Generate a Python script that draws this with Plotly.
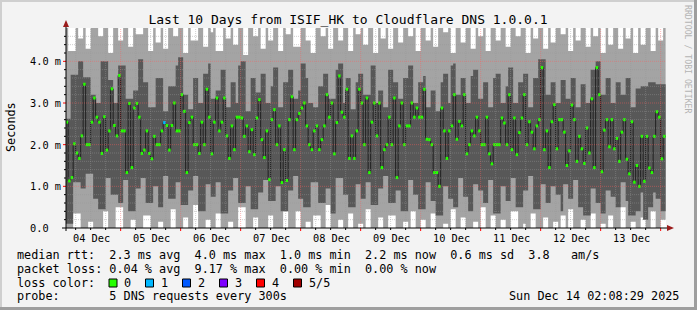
import plotly.graph_objects as go
from datetime import datetime, timedelta

# ---------------- data ----------------
title = "Last 10 Days from ISIF_HK to Cloudflare DNS 1.0.0.1"
range_start = datetime(2025, 12, 4, 2, 8, 29)
range_end = datetime(2025, 12, 14, 2, 8, 29)
first_hour = datetime(2025, 12, 4, 1, 0, 0)   # first hourly column start

day_labels = ["04 Dec", "05 Dec", "06 Dec", "07 Dec", "08 Dec",
              "09 Dec", "10 Dec", "11 Dec", "12 Dec", "13 Dec"]
y_tick_vals = [0.0, 1.0, 2.0, 3.0, 4.0]
y_tick_text = ["0.0", "1.0 m", "2.0 m", "3.0 m", "4.0 m"]

# median rtt per hour (ms)
median = [
    2.54, 2.54, 1.13, 1.21, 2.02, 1.80, 1.67, 2.21, 3.45, 2.0, 2.0, 2.54, 3.12, 2.66, 2.54, 1.79, 2.67, 1.87, 2.33, 3.34,
    2.46, 2.21, 3.66, 2.33, 2.33, 1.33, 2.99, 1.45, 2.88, 2.99, 2.66, 1.79, 1.87, 2.33, 1.79, 1.66, 2.2, 2.0, 2.0, 2.33,
    2.53, 2.46, 1.87, 2.46, 3.0, 2.33, 2.33, 3.2, 2.8, 1.33, 2.53, 2.66, 2.0, 2.0, 1.79, 2.54, 2.0, 3.33, 2.66, 1.78,
    2.54, 3.12, 2.33, 2.54, 3.12, 2.21, 1.67, 2.45, 1.88, 2.66, 2.66, 2.64, 2.2, 2.45, 1.83, 2.36, 1.76, 2.64, 3.08, 2.12,
    1.69, 2.33, 1.16, 2.6, 2.84, 2.0, 2.45, 1.09, 1.88, 1.14, 2.6, 3.15, 1.88, 2.6, 2.75, 2.88, 3.0, 2.45, 2.0, 1.88,
    2.33, 2.45, 1.88, 2.12, 2.45, 3.2, 2.66, 3.0, 1.78, 2.53, 3.65, 2.78, 2.66, 3.33, 1.67, 2.21, 1.67, 2.33, 3.33, 3.0,
    2.0, 3.12, 1.33, 2.54, 3.0, 2.21, 3.0, 1.45, 1.88, 2.0, 2.66, 2.0, 3.12, 1.21, 2.45, 3.0, 2.0, 2.45, 2.45, 3.0,
    2.66, 2.88, 2.66, 2.66, 3.33, 2.13, 2.12, 2.0, 1.33, 1.33, 1.0, 2.88, 2.33, 1.67, 2.33, 2.45, 3.2, 2.13, 2.56, 2.45,
    3.2, 1.78, 2.0, 2.33, 2.21, 2.66, 2.33, 2.0, 2.0, 2.66, 1.78, 1.54, 2.0, 2.0, 2.0, 2.64, 2.52, 2.0, 3.2, 1.88,
    2.64, 1.76, 2.29, 2.64, 3.2, 2.0, 2.55, 2.3, 1.9, 2.45, 2.6, 3.85, 1.88, 2.33, 1.45, 2.55, 2.96, 1.9, 2.6, 2.6,
    2.3, 1.5, 1.85, 2.95, 2.6, 1.6, 2.2, 1.9, 1.55, 2.4, 1.8, 3.1, 1.45, 3.85, 3.2, 1.35, 2.35, 2.6, 1.95, 2.6,
    1.9, 2.15, 1.6, 2.3, 2.6, 1.65, 1.3, 2.55, 1.1, 1.5, 1.0, 2.2, 1.12, 2.2, 1.44, 1.33, 2.2, 2.79, 2.66, 1.66, 2.2,
]

# 2nd-highest ping (top of dark smoke)
ping4 = [
    2.62, 2.62, 2.62, 3.68, 3.68, 3.68, 4.0, 4.0, 3.62, 3.62, 3.62, 3.2, 3.2, 3.0, 3.0, 4.0, 4.0, 4.0, 3.55, 3.55,
    3.0, 3.0, 3.9, 3.9, 3.9, 3.1, 3.1, 3.1, 3.3, 3.3, 4.05, 4.05, 3.5, 3.5, 2.9, 2.9, 2.9, 3.6, 3.6, 3.6,
    2.8, 2.8, 3.4, 3.4, 3.4, 3.9, 4.1, 4.1, 3.2, 3.2, 2.85, 2.85, 3.6, 3.6, 3.0, 3.0, 3.7, 3.7, 3.95, 3.1,
    3.1, 3.3, 3.3, 3.8, 3.8, 2.9, 2.9, 3.5, 3.5, 3.0, 3.9, 4.0, 4.0, 2.8, 2.8, 3.6, 3.6, 3.25, 3.25, 3.7,
    3.7, 3.0, 3.0, 3.4, 3.85, 3.85, 2.9, 2.9, 3.5, 3.5, 3.8, 3.8, 3.1, 3.1, 3.3, 3.95, 3.95, 3.6, 3.0, 3.0,
    2.9, 2.9, 3.4, 3.4, 3.7, 3.7, 3.1, 3.1, 3.1, 3.8, 3.95, 3.95, 3.0, 3.6, 3.6, 2.85, 2.85, 3.5, 3.7, 3.7,
    3.2, 3.2, 3.2, 3.9, 3.9, 3.0, 3.3, 3.3, 2.9, 2.9, 3.8, 3.8, 3.5, 3.5, 3.1, 3.1, 3.6, 3.6, 3.9, 3.9,
    3.0, 3.0, 3.5, 3.5, 3.65, 2.9, 2.9, 3.3, 3.3, 2.8, 2.8, 3.5, 3.7, 3.7, 3.0, 3.9, 3.95, 3.2, 3.2, 3.6,
    3.6, 3.0, 3.0, 3.65, 3.8, 3.8, 3.1, 3.1, 3.5, 3.5, 2.9, 2.9, 3.6, 3.7, 3.7, 3.0, 3.0, 3.4, 3.85, 3.85,
    3.0, 3.0, 3.5, 3.5, 3.7, 3.7, 2.9, 2.9, 3.6, 3.6, 4.05, 4.05, 4.05, 3.2, 3.2, 3.5, 3.5, 3.0, 3.0, 3.55,
    3.55, 3.1, 3.1, 3.6, 3.6, 2.9, 2.9, 3.45, 3.45, 3.0, 3.0, 3.8, 3.8, 4.0, 4.0, 3.2, 3.2, 3.6, 3.6, 3.0,
    3.0, 3.5, 3.5, 3.2, 3.2, 3.6, 3.6, 2.9, 2.9, 3.35, 3.35, 3.4, 3.4, 3.4, 3.5, 3.5, 3.5, 3.45, 3.45, 3.45, 3.45,
]

# 2nd-lowest ping (bottom of dark smoke)
ping2 = [
    0.1, 0.1, 0.1, 0.1, 1.1, 1.1, 1.1, 0.95, 0.95, 1.3, 1.3, 1.3, 0.7, 0.7, 0.45, 0.45, 0.45, 1.2, 1.2, 0.8,
    0.8, 0.8, 0.6, 0.6, 1.15, 1.15, 0.4, 0.4, 0.4, 0.95, 0.95, 1.2, 1.2, 0.6, 0.6, 0.6, 1.0, 1.0, 0.5, 0.5,
    1.25, 1.25, 0.7, 0.7, 0.7, 1.1, 1.1, 0.55, 0.55, 0.55, 0.9, 0.9, 1.25, 1.25, 0.4, 0.4, 0.4, 1.05, 1.05, 0.75,
    0.75, 1.1, 1.1, 0.35, 0.35, 0.35, 0.9, 0.9, 1.2, 1.2, 0.6, 0.6, 0.6, 1.0, 1.0, 0.45, 0.45, 0.45, 0.85, 0.85,
    1.15, 1.15, 0.65, 0.65, 0.65, 1.0, 1.0, 0.4, 0.4, 0.4, 0.9, 0.9, 1.25, 1.25, 0.7, 0.7, 0.5, 0.5, 0.5, 1.1,
    1.1, 1.1, 0.6, 0.6, 0.6, 0.95, 0.95, 0.35, 0.35, 1.2, 1.2, 1.2, 0.8, 0.8, 0.5, 0.5, 0.5, 1.05, 1.05, 0.7,
    0.7, 1.1, 1.1, 0.55, 0.55, 0.55, 0.95, 0.95, 1.25, 1.25, 0.6, 0.6, 0.6, 0.9, 0.9, 0.4, 0.4, 0.4, 1.15, 1.15,
    0.8, 0.8, 0.45, 0.45, 0.45, 1.1, 1.1, 0.65, 0.65, 0.3, 0.3, 0.3, 1.0, 1.0, 0.7, 0.7, 0.5, 0.5, 1.2, 1.2,
    0.75, 0.75, 0.4, 0.4, 1.05, 1.05, 0.9, 0.9, 0.6, 0.6, 1.15, 1.15, 0.35, 0.35, 0.35, 1.0, 1.0, 0.65, 0.65, 1.2,
    1.2, 0.5, 0.5, 0.5, 0.9, 0.9, 1.25, 1.25, 0.45, 0.45, 0.45, 1.05, 1.05, 0.6, 0.6, 1.0, 1.0, 0.8, 0.8, 0.4,
    1.05, 1.05, 0.7, 0.7, 1.15, 1.15, 0.5, 0.5, 0.3, 0.3, 0.3, 0.95, 0.95, 0.6, 0.6, 0.35, 0.35, 0.9, 0.9, 0.75,
    0.75, 0.5, 0.5, 1.1, 1.1, 0.65, 0.3, 0.3, 0.3, 0.4, 0.4, 0.85, 0.2, 0.2, 0.5, 0.5, 0.85, 0.7, 0.7, 0.4, 0.4,
]

# lowest ping (bottom of light smoke)
ping1 = [
    0.0, 0.0, 0.0, 0.0, 0.35, 0.35, 0.35, 0.0, 0.0, 0.0, 0.15, 0.15, 0.0, 0.0, 0.0, 0.0, 0.4, 0.4, 0.0, 0.0,
    0.0, 0.5, 0.5, 0.5, 0.0, 0.0, 0.0, 0.2, 0.2, 0.0, 0.0, 0.0, 0.3, 0.3, 0.3, 0.0, 0.0, 0.0, 0.15, 0.15,
    0.0, 0.0, 0.0, 0.45, 0.45, 0.0, 0.0, 0.0, 0.25, 0.25, 0.0, 0.0, 0.55, 0.55, 0.0, 0.0, 0.0, 0.2, 0.2, 0.0,
    0.0, 0.35, 0.35, 0.0, 0.0, 0.0, 0.15, 0.15, 0.0, 0.0, 0.5, 0.5, 0.5, 0.0, 0.0, 0.0, 0.25, 0.25, 0.0, 0.0,
    0.0, 0.0, 0.3, 0.3, 0.0, 0.0, 0.0, 0.0, 0.45, 0.45, 0.0, 0.0, 0.0, 0.4, 0.4, 0.0, 0.0, 0.15, 0.15, 0.0,
    0.3, 0.3, 0.3, 0.0, 0.0, 0.55, 0.55, 0.0, 0.0, 0.0, 0.2, 0.2, 0.0, 0.0, 0.35, 0.35, 0.0, 0.0, 0.1, 0.1,
    0.0, 0.45, 0.45, 0.0, 0.0, 0.0, 0.25, 0.25, 0.0, 0.0, 0.3, 0.3, 0.3, 0.0, 0.0, 0.0, 0.15, 0.15, 0.0, 0.4,
    0.4, 0.0, 0.0, 0.2, 0.2, 0.0, 0.0, 0.35, 0.35, 0.0, 0.0, 0.0, 0.1, 0.1, 0.0, 0.45, 0.45, 0.0, 0.0, 0.25,
    0.25, 0.0, 0.0, 0.0, 0.15, 0.15, 0.0, 0.5, 0.5, 0.0, 0.0, 0.3, 0.3, 0.0, 0.0, 0.2, 0.2, 0.0, 0.0, 0.4,
    0.4, 0.4, 0.0, 0.0, 0.1, 0.0, 0.0, 0.35, 0.35, 0.0, 0.0, 0.0, 0.25, 0.25, 0.0, 0.0, 0.15, 0.15, 0.0, 0.3,
    0.3, 0.0, 0.45, 0.45, 0.0, 0.0, 0.0, 0.2, 0.2, 0.0, 0.0, 0.35, 0.35, 0.0, 0.0, 0.1, 0.1, 0.0, 0.3, 0.3,
    0.0, 0.0, 0.0, 0.5, 0.5, 0.0, 0.0, 0.15, 0.15, 0.0, 0.0, 0.25, 0.25, 0.0, 0.0, 0.4, 0.4, 0.0, 0.0, 0.2, 0.2,
]

# highest ping (top of light smoke, 4.9 = off the top)
ping5 = [
    4.9, 4.9, 4.25, 4.25, 4.25, 4.9, 4.55, 4.55, 4.9, 4.3, 4.3, 4.9, 4.9, 4.9, 4.6, 4.6, 4.9, 4.9, 4.2, 4.2,
    4.9, 4.9, 4.5, 4.5, 4.9, 4.9, 4.35, 4.35, 4.9, 4.65, 4.65, 4.65, 4.9, 4.9, 4.25, 4.25, 4.9, 4.45, 4.45, 4.9,
    4.3, 4.3, 4.9, 4.9, 4.6, 4.6, 4.9, 4.9, 4.2, 4.2, 4.9, 4.5, 4.5, 4.5, 4.9, 4.9, 4.35, 4.35, 4.9, 4.7,
    4.9, 4.25, 4.25, 4.25, 4.9, 4.55, 4.55, 4.9, 4.4, 4.4, 4.9, 4.9, 4.15, 4.15, 4.9, 4.9, 4.6, 4.6, 4.9, 4.3,
    4.3, 4.9, 4.5, 4.5, 4.9, 4.9, 4.25, 4.25, 4.9, 4.65, 4.65, 4.9, 4.35, 4.35, 4.35, 4.9, 4.9, 4.5, 4.5, 4.2,
    4.2, 4.9, 4.9, 4.6, 4.6, 4.9, 4.3, 4.3, 4.9, 4.9, 4.5, 4.5, 4.9, 4.9, 4.25, 4.25, 4.9, 4.65, 4.65, 4.9,
    4.4, 4.4, 4.9, 4.9, 4.2, 4.2, 4.9, 4.55, 4.55, 4.9, 4.3, 4.3, 4.9, 4.9, 4.45, 4.45, 4.9, 4.9, 4.6, 4.6,
    4.9, 4.25, 4.25, 4.9, 4.9, 4.5, 4.5, 4.9, 4.35, 4.35, 4.9, 4.9, 4.7, 4.7, 4.9, 4.2, 4.2, 4.9, 4.9, 4.45,
    4.45, 4.9, 4.9, 4.3, 4.3, 4.9, 4.6, 4.6, 4.9, 4.25, 4.25, 4.9, 4.9, 4.5, 4.5, 4.9, 4.9, 4.35, 4.35, 4.9,
    4.9, 4.6, 4.6, 4.9, 4.9, 4.2, 4.2, 4.9, 4.55, 4.55, 4.9, 4.9, 4.3, 4.3, 4.9, 4.45, 4.45, 4.9, 4.9, 4.65,
    4.65, 4.9, 4.25, 4.25, 4.9, 4.5, 4.5, 4.9, 4.9, 4.35, 4.35, 4.9, 4.6, 4.6, 4.9, 4.2, 4.2, 4.9, 4.4, 4.4,
    4.9, 4.9, 4.3, 4.3, 4.9, 4.55, 4.55, 4.9, 4.2, 4.2, 4.9, 4.4, 4.4, 4.9, 4.9, 4.25, 4.25, 4.9, 4.5, 4.5, 4.9,
]

# lost pings per hour (out of 5)
loss = [0] * 40 + [1] + [0] * 200

loss_labels = ["0", "1", "2", "3", "4", "5/5"]
loss_colors = ["#26ff00", "#00b8ff", "#0059ff", "#7e00ff", "#ff0000", "#a10000"]

legend_lines = [
    "median rtt:  2.3 ms avg  4.0 ms max  1.0 ms min  2.2 ms now  0.6 ms sd  3.8   am/s",
    "packet loss: 0.04 % avg  9.17 % max  0.00 % min  0.00 % now",
    "loss color:",
    "probe:       5 DNS requests every 300s",
]
stamp = "Sun Dec 14 02:08:29 2025"
watermark = "RRDTOOL / TOBI OETIKER"

# ---------------- geometry ----------------
W, H = 697, 310
L, R, T, B = 66, 666, 28, 228
YMAX = 4.8
MONO = "DejaVu Sans Mono"


def xp(px):
    return (px - L) / (R - L)


def yp(py):
    return (B - py) / (B - T)


def nb(s):
    return s.replace(" ", "\u00a0")


n = len(median)
starts = [first_hour + timedelta(hours=i) for i in range(n + 1)]
p1 = [min(a, b) for a, b in zip(ping1, ping2)]
p2 = [min(a, m) for a, m in zip(ping2, median)]
p4 = [max(a, m) for a, m in zip(ping4, median)]
p5 = [max(a, b) for a, b in zip(ping5, p4)]


def band(lo, hi):
    xs, ys = [], []
    for i in range(n):
        xs += [starts[i], starts[i + 1]]
        ys += [hi[i], hi[i]]
    for i in reversed(range(n)):
        xs += [starts[i + 1], starts[i]]
        ys += [lo[i], lo[i]]
    return xs, ys


fig = go.Figure()
lx, ly = band(p1, p5)
fig.add_trace(go.Scatter(x=lx, y=ly, fill="toself", fillcolor="#a4a4a4",
                         mode="lines", line=dict(width=0), hoverinfo="skip"))
dx, dy = band(p2, p4)
fig.add_trace(go.Scatter(x=dx, y=dy, fill="toself", fillcolor="#585858",
                         mode="lines", line=dict(width=0), hoverinfo="skip"))

# median connecting line
fig.add_trace(go.Scatter(x=starts, y=median + [median[-1]], mode="lines",
                         line=dict(color="#202020", width=1, shape="hv"),
                         hoverinfo="skip"))

# median loss-coloured blobs (3 px tall horizontal segments)
for k, col in enumerate(loss_colors):
    xs, ys = [], []
    for i in range(n):
        if loss[i] == k:
            xs += [starts[i], starts[i + 1], None]
            ys += [median[i], median[i], None]
    if xs:
        fig.add_trace(go.Scatter(x=xs, y=ys, mode="lines", connectgaps=False,
                                 line=dict(color=col, width=3), hoverinfo="skip"))

shapes = []
grid_minor = "rgba(150,150,150,0.45)"
grid_major = "rgba(255,90,90,0.45)"
# vertical grid
t = datetime(2025, 12, 4, 6)
while t <= datetime(2025, 12, 14, 0):
    major = (t.hour == 0)
    shapes.append(dict(type="line", xref="x", yref="paper", x0=t, x1=t, y0=0, y1=1,
                       line=dict(color=grid_major if major else grid_minor, width=1, dash="1px,1px"),
                       layer="above"))
    shapes.append(dict(type="line", xref="x", yref="paper", x0=t, x1=t, y0=yp(228), y1=yp(231 if major else 230),
                       line=dict(color="#ff0000" if major else "#000000", width=1)))
    t += timedelta(hours=6)
# horizontal grid
for k in range(1, 24):
    v = k * 0.2
    major = (k % 5 == 0)
    shapes.append(dict(type="line", xref="paper", yref="y", x0=0, x1=1, y0=v, y1=v,
                       line=dict(color=grid_major if major else grid_minor, width=1, dash="1px,1px"),
                       layer="above"))
    shapes.append(dict(type="line", xref="paper", yref="y", x0=xp(63 if major else 64), x1=xp(66), y0=v, y1=v,
                       line=dict(color="#ff0000" if major else "#000000", width=1)))

# axes
shapes.append(dict(type="line", xref="paper", yref="paper", x0=xp(62), x1=xp(670), y0=0, y1=0,
                   line=dict(color="#000000", width=1)))
shapes.append(dict(type="line", xref="paper", yref="paper", x0=0, x1=0, y0=yp(231), y1=yp(23),
                   line=dict(color="#000000", width=1)))
# arrows
shapes.append(dict(type="path", xref="paper", yref="paper",
                   path=f"M {xp(63)} {yp(27)} L {xp(69)} {yp(27)} L {xp(66)} {yp(20)} Z",
                   fillcolor="#9b1c1c", line=dict(width=0)))
shapes.append(dict(type="path", xref="paper", yref="paper",
                   path=f"M {xp(667)} {yp(225)} L {xp(667)} {yp(231)} L {xp(674)} {yp(228)} Z",
                   fillcolor="#9b1c1c", line=dict(width=0)))
# frame (3d shade)
shapes.append(dict(type="rect", xref="paper", yref="paper", x0=xp(0), x1=xp(697), y0=yp(0), y1=yp(2),
                   fillcolor="#cfcfcf", line=dict(width=0)))
shapes.append(dict(type="rect", xref="paper", yref="paper", x0=xp(0), x1=xp(2), y0=yp(0), y1=yp(310),
                   fillcolor="#cfcfcf", line=dict(width=0)))
shapes.append(dict(type="rect", xref="paper", yref="paper", x0=xp(0), x1=xp(697), y0=yp(307), y1=yp(310),
                   fillcolor="#9e9e9e", line=dict(width=0)))
shapes.append(dict(type="rect", xref="paper", yref="paper", x0=xp(694), x1=xp(697), y0=yp(0), y1=yp(310),
                   fillcolor="#9e9e9e", line=dict(width=0)))
# loss colour boxes
box_x = [109, 145.5, 182.5, 219.5, 256.5, 293.5]
lab_x = [123, 159.6, 196.6, 233.6, 270.6, 307.6]
for bx, c in zip(box_x, loss_colors):
    shapes.append(dict(type="rect", xref="paper", yref="paper", x0=xp(bx), x1=xp(bx + 8),
                       y0=yp(287), y1=yp(279), fillcolor=c, line=dict(color="#000000", width=1)))

ann = []


def text(s, x, y, size, xanchor="left", color="#000000", angle=0):
    ann.append(dict(text=nb(s), x=xp(x), y=yp(y), xref="paper", yref="paper",
                    xanchor=xanchor, yanchor="middle", showarrow=False, textangle=angle,
                    font=dict(family=MONO, size=size, color=color), borderpad=3))


for s, yy in zip(legend_lines, [255, 268.5, 282.7, 296]):
    text(s, 13, yy, 11.8)
for s, xx in zip(loss_labels, lab_x):
    text(s, xx - 3, 282.7, 11.8)
text(stamp, 683, 296, 11.8, xanchor="right")
text("Seconds", 10.5, 127.5, 11.8, xanchor="center", angle=-90)
text(watermark, 688, 59, 8.2, xanchor="center", color="#b4b4b4", angle=90)
for v, s in zip(y_tick_vals, y_tick_text):
    text(s, 26, B - v / YMAX * 200, 10.3)
for i, s in enumerate(day_labels):
    ann.append(dict(text=nb(s), x=datetime(2025, 12, 4 + i, 12) + timedelta(minutes=20), y=yp(238.3),
                    xref="x", yref="paper", xanchor="center", yanchor="middle", showarrow=False,
                    font=dict(family=MONO, size=10.3, color="#000000"), borderpad=3))

fig.update_layout(
    width=W, height=H, autosize=False,
    margin=dict(l=L, r=W - R, t=T, b=H - B, pad=0),
    paper_bgcolor="#f3f3f3", plot_bgcolor="#ffffff",
    showlegend=False,
    title=dict(text=nb(title), x=348 / W, xanchor="center", y=1 - 19 / H, yanchor="middle",
               xref="container", yref="container",
               font=dict(family=MONO, size=13, color="#000000")),
    xaxis=dict(range=[range_start, range_end], showgrid=False, zeroline=False,
               showticklabels=False, showline=False, ticks="", fixedrange=True),
    yaxis=dict(range=[0, YMAX], showgrid=False, zeroline=False,
               showticklabels=False, showline=False, ticks="", fixedrange=True),
    shapes=shapes, annotations=ann,
)
fig.write_html("out.html", config={"displayModeBar": False})
